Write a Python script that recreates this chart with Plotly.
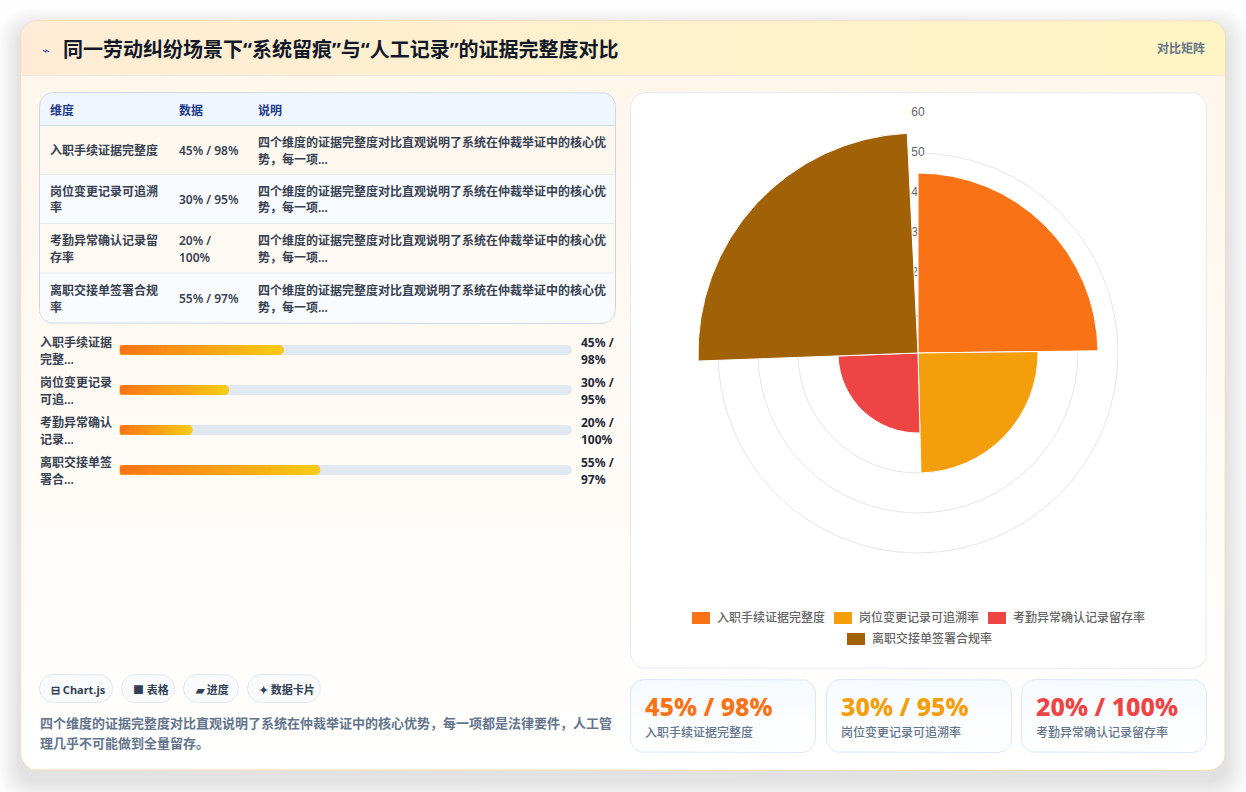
import math
import plotly.graph_objects as go

# ---- chart data ----
dimensions = ["入职手续证据完整度", "岗位变更记录可追溯率", "考勤异常确认记录留存率", "离职交接单签署合规率"]
manual_rate = [45, 30, 20, 55]
system_rate = [98, 95, 100, 97]
wedge_colors = ["#f97316", "#f59e0b", "#ef4444", "#a16207"]
radial_ticks = [10, 20, 30, 40, 50, 60]

# ---- copy ----
title_text = "同一劳动纠纷场景下“系统留痕”与“人工记录”的证据完整度对比"
badge_text = "对比矩阵"
table_heads = ["维度", "数据", "说明"]
table_dim_lines = [["入职手续证据完整度"], ["岗位变更记录可追溯", "率"], ["考勤异常确认记录留", "存率"], ["离职交接单签署合规", "率"]]
table_val_lines = [["45% / 98%"], ["30% / 95%"], ["20% /", "100%"], ["55% / 97%"]]
table_note_lines = ["四个维度的证据完整度对比直观说明了系统在仲裁举证中的核心优", "势，每一项..."]
bar_label_lines = [["入职手续证据", "完整..."], ["岗位变更记录", "可追..."], ["考勤异常确认", "记录..."], ["离职交接单签", "署合..."]]
bar_value_lines = [["45% /", "98%"], ["30% /", "95%"], ["20% /", "100%"], ["55% /", "97%"]]
chip_labels = ["⊟ Chart.js", "■ 表格", "▰ 进度", "✦ 数据卡片"]
footer_lines = ["四个维度的证据完整度对比直观说明了系统在仲裁举证中的核心优势，每一项都是法律要件，人工管", "理几乎不可能做到全量留存。"]
stat_values = ["45% / 98%", "30% / 95%", "20% / 100%"]

# ---- layout constants ----
W, H = 1246, 792
CJK = "Noto Sans, Noto Sans CJK SC, sans-serif"
WEDGE_SPAN = 89.3
BAR_AXIS_MAX = 124
BAR_HALF = 0.125
BAR_CAP_PX = 5
TRACK_X0, TRACK_X1 = 119.5, 572

fig = go.Figure()
notes = []


def rounded(x0, y0, x1, y1, tl, tr=None, br=None, bl=None):
    """Closed outline of a rectangle with the given corner radii."""
    tr = tl if tr is None else tr
    br = tl if br is None else br
    bl = tl if bl is None else bl
    xs, ys = [], []
    corners = [(x0 + tl, y0 + tl, tl, 180), (x1 - tr, y0 + tr, tr, 270),
               (x1 - br, y1 - br, br, 0), (x0 + bl, y1 - bl, bl, 90)]
    for cx, cy, r, start in corners:
        for k in range(13 if r else 1):
            a = math.radians(start + 7.5 * k)
            xs.append(cx + r * math.cos(a))
            ys.append(cy + r * math.sin(a))
    xs.append(xs[0])
    ys.append(ys[0])
    return xs, ys


def panel(outline, fill=None, line=None, gradient=None):
    xs, ys = outline
    spec = dict(x=xs, y=ys, mode="lines", fill="toself", hoverinfo="skip", showlegend=False,
                xaxis="x", yaxis="y",
                line=dict(color=line or "rgba(0,0,0,0)", width=1 if line else 0))
    if gradient:
        spec["fillgradient"] = gradient
    else:
        spec["fillcolor"] = fill or "rgba(0,0,0,0)"
    fig.add_trace(go.Scatter(**spec))


def grad(kind, start, stop, c0, c1):
    return dict(type=kind, start=start, stop=stop, colorscale=[[0, c0], [1, c1]])


def text(x, y, s, size=12, color="#374151", weight=400, anchor="left", family=CJK):
    notes.append(dict(x=x, y=y, xref="x", yref="y", text=s, showarrow=False, xanchor=anchor, yanchor="middle",
                      align=anchor, borderpad=0, font=dict(size=size, color=color, family=family, weight=weight)))


def stacked(x, ys, lines, **kw):
    for y, s in zip(ys, lines):
        text(x, y, s, **kw)


# ---- page card with its soft drop shadow ----
for grow in range(1, 15):
    panel(rounded(20 - grow * 1.6, 20 + 10 - grow * 1.6, 1226 + grow * 1.6, 771 + 10 + grow * 1.6, 18 + grow),
          fill="rgba(15,23,42,0.0065)")
panel(rounded(20.5, 20.5, 1225.5, 770.5, 18), gradient=grad("vertical", 20, 771, "#fff5ea", "#ffffff"), line="#fbdcb4")
panel(rounded(21, 21, 1225, 75.5, 17, 17, 0, 0), gradient=grad("horizontal", 21, 1225, "#ffecd6", "#fef5c3"))
panel(([21, 1225], [75.5, 75.5]), line="#ece7e0")

text(41, 50, "⌁", size=13, color="#3556a0")
text(62, 49.5, title_text, size=20, color="#111827", weight=700)
text(1206, 48.5, badge_text, size=12, color="#64748b", weight=600, anchor="right")

# ---- comparison table ----
panel(rounded(39.5, 92.5, 615.5, 323.5, 14), fill="#ffffff")
panel(rounded(40, 93, 615, 125.5, 14, 14, 0, 0), fill="#eff6ff")
row_edges = [126, 175, 224, 273.5, 323]
row_fills = ["#fff8f0", "#f8fbff", "#fff9f3", "#f9fbfe"]
for i, fill in enumerate(row_fills):
    radius = 14 if i == 3 else 0
    panel(rounded(40, row_edges[i], 615, row_edges[i + 1], 0, 0, radius, radius), fill=fill)
    panel(([40, 615], [row_edges[i] - 0.5, row_edges[i] - 0.5]), line="#cfd9e8" if i == 0 else "#e5ebf3")
panel(rounded(39.5, 92.5, 615.5, 323.5, 14), line="#ced7e6")

for x, head in zip([49, 178, 257], table_heads):
    text(x, 110, head, size=12, color="#1e3a8a", weight=700)
row_line_y = [(142, 159), (191, 207.5), (240.5, 257.5), (290, 307)]
for i in range(4):
    top, low = row_line_y[i]
    mid = (top + low) / 2
    dim, val = table_dim_lines[i], table_val_lines[i]
    stacked(49, [mid] if len(dim) == 1 else [top, low], dim, weight=600)
    stacked(178, [mid] if len(val) == 1 else [top, low], val, weight=600)
    stacked(257, [top, low], table_note_lines, weight=600)

# ---- progress rows: bars are drawn on their own value axis ----
row_index = list(range(len(manual_rate)))
row_center = [350, 390, 430, 470]
for i in row_index:
    panel(rounded(TRACK_X0, row_center[i] - 5, TRACK_X1, row_center[i] + 5, 5), fill="#e2e8f0")
    stacked(39, [row_center[i] - 8, row_center[i] + 9], bar_label_lines[i], weight=600)
    stacked(580, [row_center[i] - 8, row_center[i] + 9], bar_value_lines[i], color="#1f2937", weight=700)

fig.add_trace(go.Bar(x=manual_rate, y=row_index, orientation="h", width=2 * BAR_HALF, xaxis="x2", yaxis="y2",
                     marker=dict(color="#f9a01c", cornerradius=BAR_CAP_PX, line=dict(width=0)),
                     hoverinfo="skip", showlegend=False))
cap_x = BAR_CAP_PX * BAR_AXIS_MAX / (TRACK_X1 - TRACK_X0)
for i, value in zip(row_index, manual_rate):
    xs, ys = [], []
    for k in range(13):
        a = math.radians(-90 + 15 * k)
        xs.append(value - cap_x + cap_x * math.cos(a))
        ys.append(i + BAR_HALF * math.sin(a))
    for k in range(13):
        a = math.radians(90 + 15 * k)
        xs.append(cap_x + cap_x * math.cos(a))
        ys.append(i + BAR_HALF * math.sin(a))
    fig.add_trace(go.Scatter(x=xs + xs[:1], y=ys + ys[:1], mode="lines", fill="toself", xaxis="x2", yaxis="y2",
                             line=dict(width=0, color="rgba(0,0,0,0)"), hoverinfo="skip", showlegend=False,
                             fillgradient=dict(type="horizontal", start=0, stop=value,
                                               colorscale=[[0, "#f97316"], [1, "#facc15"]])))

# ---- tag chips and footnote ----
chip_edges = [(39.5, 112.5), (121.5, 174.5), (183.5, 238.5), (247.5, 320.5)]
for (x0, x1), label in zip(chip_edges, chip_labels):
    panel(rounded(x0, 674.5, x1, 702.5, 14), fill="#f8fafc", line="#e2e8f0")
    text(x0 + 10, 689, label, size=11, color="#334155", weight=700)
stacked(39, [723, 743], footer_lines, size=13, color="#64748b", weight=600)

# ---- polar panel ----
panel(rounded(630.5, 92.5, 1206.5, 668.5, 16), fill="#ffffff", line="#e5eaf2")

# ---- stat cards ----
stat_edges = [(630.5, 815.5), (826.5, 1011.5), (1021.5, 1206.5)]
for i, (x0, x1) in enumerate(stat_edges):
    panel(rounded(x0, 679.5, x1, 752.5, 14), gradient=grad("vertical", 680, 752, "#f6faff", "#ffffff"), line="#dbe8f7")
    text(x0 + 13.5, 706, stat_values[i], size=25, color=wedge_colors[i], weight=800)
    text(x0 + 13.5, 732.5, dimensions[i], size=12, color="#64748b", weight=500)

# ---- legend of the polar chart ----
legend_slots = [(692, 612), (834, 612), (988, 612), (847, 633)]
for (x, y), name, color in zip(legend_slots, dimensions, wedge_colors):
    panel(rounded(x, y, x + 18, y + 12, 0), fill=color)
    text(x + 24, y + 5.5, name, size=12, color="#666666", weight=500)

# ---- polar chart: scale underneath, wedges on top ----
fig.add_trace(go.Scatterpolar(r=radial_ticks, theta=[0] * len(radial_ticks), mode="markers+text",
                              text=[str(t) for t in radial_ticks], textposition="middle center",
                              textfont=dict(size=12, color="#666666", family="Liberation Sans, Arial"),
                              marker=dict(symbol="square", size=16, color="#ffffff"),
                              cliponaxis=False, hoverinfo="skip", showlegend=False, subplot="polar"))
fig.add_trace(go.Barpolar(r=manual_rate, theta=[WEDGE_SPAN * (i + 0.5) for i in row_index],
                          width=[WEDGE_SPAN] * len(manual_rate),
                          marker=dict(color=wedge_colors, line=dict(color="#ffffff", width=1)),
                          customdata=dimensions, hovertemplate="%{customdata}: %{r}<extra></extra>",
                          showlegend=False, subplot="polar2"))

polar_domain = dict(x=[678 / W, 1158 / W], y=[1 - 593 / H, 1 - 113 / H])
hidden_angle = dict(visible=False, rotation=90, direction="clockwise")

fig.update_layout(
    width=W, height=H, autosize=False, margin=dict(l=0, r=0, t=0, b=0),
    paper_bgcolor="#fefefe", plot_bgcolor="rgba(0,0,0,0)", showlegend=False, barmode="overlay",
    xaxis=dict(range=[0, W], domain=[0, 1], visible=False, fixedrange=True),
    yaxis=dict(range=[H, 0], domain=[0, 1], visible=False, fixedrange=True),
    xaxis2=dict(range=[0, BAR_AXIS_MAX], domain=[TRACK_X0 / W, TRACK_X1 / W], visible=False, fixedrange=True, anchor="y2"),
    yaxis2=dict(range=[3.5, -0.5], domain=[1 - 490 / H, 1 - 330 / H], visible=False, fixedrange=True, anchor="x2"),
    polar=dict(domain=polar_domain, bgcolor="rgba(0,0,0,0)", angularaxis=hidden_angle,
               radialaxis=dict(range=[0, 60], tickvals=radial_ticks, showticklabels=False, ticks="", showline=False,
                               gridcolor="#e6e6e6", gridwidth=1)),
    polar2=dict(domain=polar_domain, bgcolor="rgba(0,0,0,0)", angularaxis=hidden_angle,
                radialaxis=dict(range=[0, 60], visible=False)),
    annotations=notes,
)

fig.write_html("out.html", config=dict(displayModeBar=False))
